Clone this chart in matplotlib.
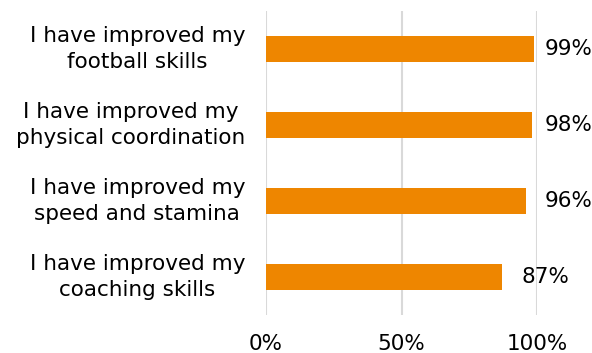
import matplotlib
matplotlib.use("Agg")
import matplotlib.pyplot as plt
from matplotlib.ticker import FuncFormatter
from matplotlib.transforms import blended_transform_factory, offset_copy

categories = [
    "I have improved my\nfootball skills",
    "I have improved my\nphysical coordination",
    "I have improved my\nspeed and stamina",
    "I have improved my\ncoaching skills",
]
values = [99, 98, 96, 87]
x_ticks = [0, 50, 100]

bar_color = "#EE8600"
grid_color = "#D9D9D9"
font_size = 15.5

plt.rcParams["font.family"] = ["DejaVu Sans"]

fig = plt.figure(figsize=(5.92, 3.53), dpi=100)
ax = fig.add_axes([266 / 592, 1 - 315 / 353, (537 - 266) / 592, (315 - 11) / 353])

y = list(range(len(categories)))
ax.barh(y, values, height=0.35, color=bar_color, zorder=3)
ax.set_ylim(len(categories) - 0.5, -0.5)
ax.set_xlim(0, 100)

ax.set_xticks(x_ticks)
ax.xaxis.set_major_formatter(FuncFormatter(lambda v, _: f"{v:.0f}%"))
ax.set_yticks([])
ax.tick_params(axis="x", length=0, labelsize=font_size, pad=14)
ax.grid(axis="x", color=grid_color, linewidth=1.5, zorder=0)
for s in ax.spines.values():
    s.set_visible(False)

# category labels: right-aligned blocks with centred lines
label_tr = offset_copy(blended_transform_factory(ax.transAxes, ax.transData),
                       fig=fig, x=-21, y=0, units="dots")
for yi, cat in zip(y, categories):
    ax.text(0, yi, cat, transform=label_tr, ha="right", va="center",
            multialignment="center", fontsize=font_size, linespacing=1.35,
            clip_on=False)

for yi, v in zip(y, values):
    ax.text(min(v + 7.2, 102.9), yi, f"{v}%", va="center", ha="left",
            fontsize=font_size, clip_on=False)

fig.savefig("out.png", dpi=100)
